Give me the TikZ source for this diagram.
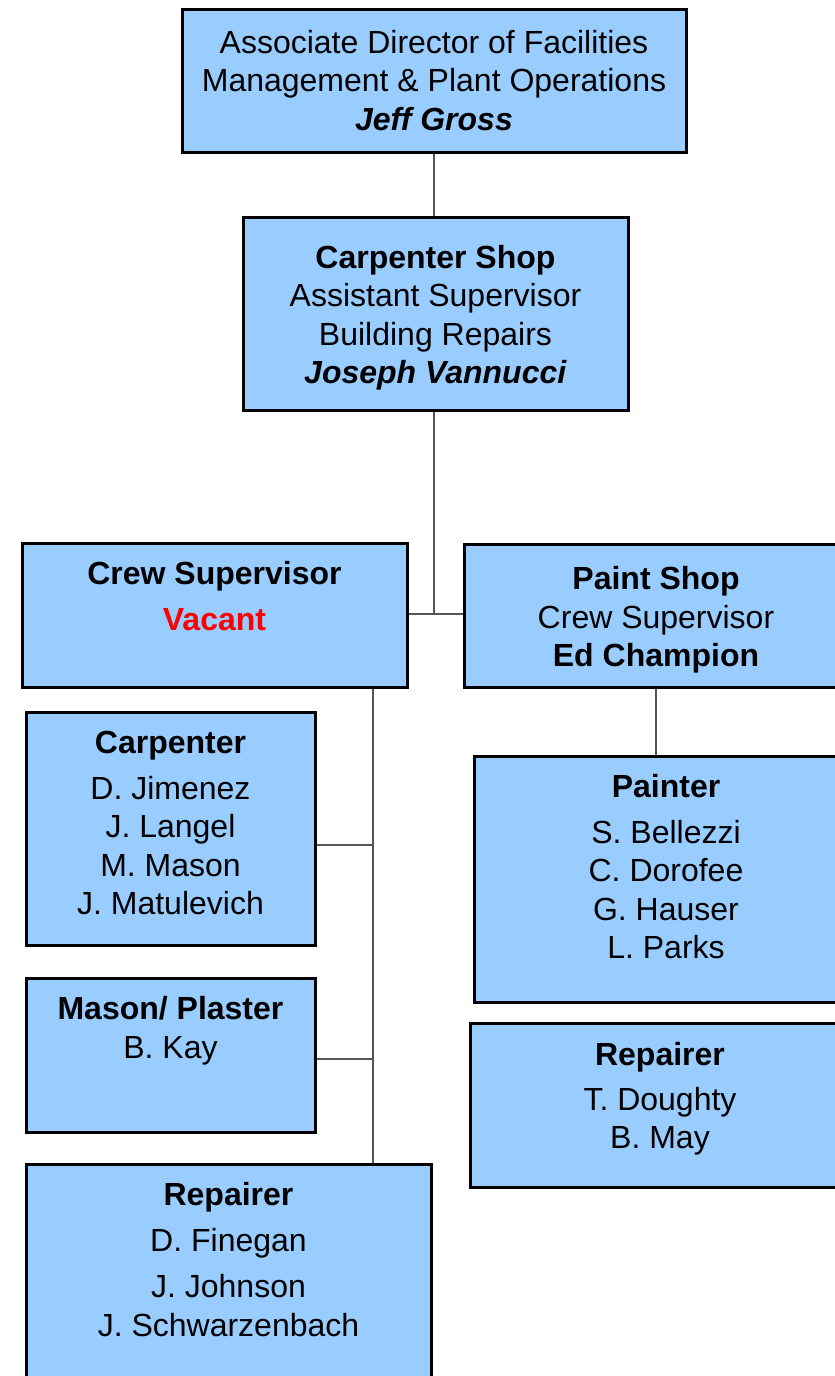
\documentclass[tikz,border=0pt]{standalone}
\usepackage{fontspec}
\setmainfont{Liberation Sans}
\definecolor{boxblue}{RGB}{153,204,255}
\definecolor{linegray}{RGB}{85,85,85}
\begin{document}
\begin{tikzpicture}[x=1pt,y=-1pt,
  orgbox/.style={draw=black,line width=3pt,fill=boxblue,inner sep=0pt},
  txt/.style={align=center,inner sep=0pt,font=\fontsize{32}{38.5}\selectfont},
  conn/.style={draw=linegray,line width=1.3pt}]
\useasboundingbox (0,0) rectangle (835,1376);
\clip (0,0) rectangle (835,1376);
% boxes
\node[orgbox,minimum width=504pt,minimum height=143pt] (top) at (434,80.5) {};
\node[orgbox,minimum width=385pt,minimum height=193pt] (cshop) at (435.5,313.5) {};
\node[orgbox,minimum width=385pt,minimum height=144pt] (crew) at (214.5,615) {};
\node[orgbox,minimum width=384pt,minimum height=143pt] (paint) at (656,615.5) {};
\node[orgbox,minimum width=289pt,minimum height=233pt] (carp) at (170.5,828.5) {};
\node[orgbox,minimum width=289pt,minimum height=154pt] (mason) at (170.5,1055) {};
\node[orgbox,minimum width=405pt,minimum height=256pt] (repL) at (228.5,1292) {};
\node[orgbox,minimum width=384pt,minimum height=246pt] (painter) at (666,879) {};
\node[orgbox,minimum width=380pt,minimum height=164pt] (repR) at (660,1105) {};
% texts
\node[txt] (topT) at (434,80.5) {Associate Director of Facilities\\Management \& Plant Operations\\\textbf{\textit{Jeff Gross}}};
\node[txt] (cshopT) at (435.5,317.5) {\textbf{Carpenter Shop}\\Assistant Supervisor\\Building Repairs\\\textbf{\textit{Joseph Vannucci}}};
\node[txt] (crewT) at (214.5,596) {\textbf{Crew Supervisor}\\[7.5pt]\textcolor{red}{\textbf{Vacant}}};
\node[txt] (paintT) at (656,620) {\textbf{Paint Shop}\\Crew Supervisor\\\textbf{Ed Champion}};
\node[txt] (carpT) at (170.5,823) {\textbf{Carpenter}\\[7.5pt]D. Jimenez\\J. Langel\\M. Mason\\J. Matulevich};
\node[txt] (masonT) at (170.5,1030.5) {\textbf{Mason/ Plaster}\\B. Kay};
\node[txt] (repLT) at (228.5,1259.5) {\textbf{Repairer}\\[7.5pt]D. Finegan\\[7.5pt]J. Johnson\\J. Schwarzenbach};
\node[txt] (painterT) at (666,866.5) {\textbf{Painter}\\[7.5pt]S. Bellezzi\\C. Dorofee\\G. Hauser\\L. Parks};
\node[txt] (repRT) at (660,1098.5) {\textbf{Repairer}\\[6.5pt]T. Doughty\\B. May};
% junction coordinates
\coordinate (j1) at (434,614);
\coordinate (c1) at (373,845);
\coordinate (c2) at (373,1059);
% connectors
\draw[conn] (top.south) -- (cshop.north -| top.south);
\draw[conn] (cshop.south -| j1) -- (j1);
\draw[conn] (crew.east |- j1) -- (paint.west |- j1);
\draw[conn] (crew.south -| c1) -- (repL.north -| c1);
\draw[conn] (carp.east |- c1) -- (c1);
\draw[conn] (mason.east |- c2) -- (c2);
\draw[conn] (paint.south) -- (painter.north -| paint.south);
\end{tikzpicture}
\end{document}
